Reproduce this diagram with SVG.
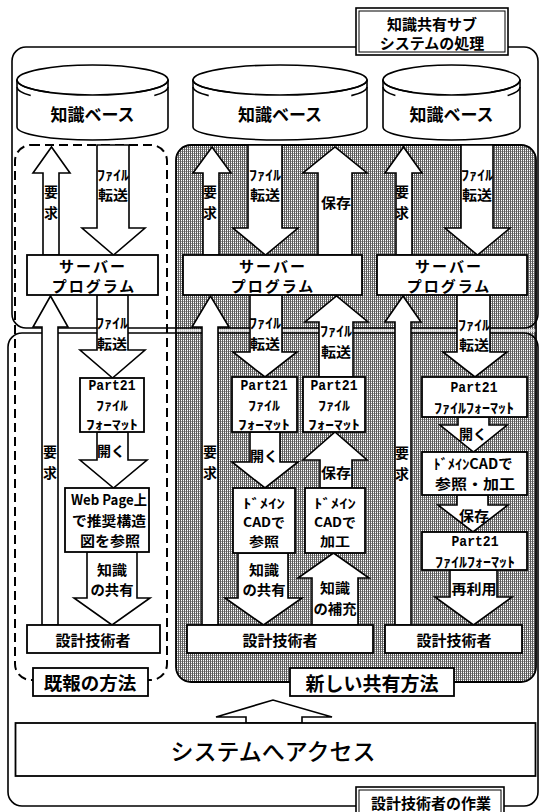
<svg xmlns="http://www.w3.org/2000/svg" width="539" height="812" viewBox="0 0 539 812">
<defs>
<pattern id="sh" width="2" height="2" patternUnits="userSpaceOnUse"><rect width="2" height="2" fill="#fff"/><rect width="1" height="2" fill="#5a5a5a"/><rect x="1" y="1" width="1" height="1" fill="#999"/></pattern>
<style>
.a{fill:#fff;stroke:#000;stroke-width:1.6;stroke-linejoin:miter}
.b{fill:#fff;stroke:#000;stroke-width:1.8}
.c{fill:#fff;stroke:#000;stroke-width:1.6}
.f{fill:none;stroke:#000;stroke-width:1.6}
.t{font-family:"Noto Sans CJK JP","Noto Sans CJK SC",sans-serif;font-weight:700;font-size:14px;text-anchor:middle;dominant-baseline:central;fill:#000}
.s{font-size:13px}
.m{font-family:"Liberation Mono","DejaVu Sans Mono",monospace;font-weight:700;font-size:14px;text-anchor:middle;dominant-baseline:central;fill:#000}
</style>
</defs>
<rect width="539" height="812" fill="#fff"/>

<!-- regions -->
<g id="region-new">
<rect x="176" y="145" width="360" height="537" rx="15" fill="url(#sh)" stroke="#000" stroke-width="1.8"/>
</g>
<g id="region-old">
<rect x="15" y="145" width="152" height="535" rx="16" fill="none" stroke="#000" stroke-width="2" stroke-dasharray="9 5"/>
</g>
<g id="frames">
<rect x="12" y="47" width="526" height="281" rx="14" class="f"/>
<rect x="8" y="333" width="530" height="473" rx="14" class="f"/>
<rect x="176.8" y="329" width="358.4" height="3" fill="#fff" opacity="0.6"/>
</g>

<!-- knowledge bases -->
<g id="kb1">
<path class="c" d="M17,80 V127 A75.5,13 0 0 0 168,127 V80 Z"/>
<ellipse class="c" cx="92.5" cy="80" rx="75.5" ry="15"/>
<path class="f" d="M17,80 A75.5,15 0 0 0 49.2,92.3 M135.8,92.3 A75.5,15 0 0 0 168,80 M17,87 A75.5,15 0 0 0 30.7,95.6 M154.3,95.6 A75.5,15 0 0 0 168,87"/>
<text class="t" x="92.5" y="113" style="font-size:17px">知識ベース</text>
</g>
<g id="kb2">
<path class="c" d="M193,80 V127 A87,13 0 0 0 367,127 V80 Z"/>
<ellipse class="c" cx="280" cy="80" rx="87" ry="15"/>
<path class="f" d="M193,80 A87,15 0 0 0 230.1,92.3 M329.9,92.3 A87,15 0 0 0 367,80 M193,87 A87,15 0 0 0 208.7,95.6 M351.3,95.6 A87,15 0 0 0 367,87"/>
<text class="t" x="280" y="113" style="font-size:17px">知識ベース</text>
</g>
<g id="kb3">
<path class="c" d="M383,80 V127 A68.5,13 0 0 0 520,127 V80 Z"/>
<ellipse class="c" cx="451.5" cy="80" rx="68.5" ry="15"/>
<path class="f" d="M383,80 A68.5,15 0 0 0 412.2,92.3 M490.8,92.3 A68.5,15 0 0 0 520,80 M383,87 A68.5,15 0 0 0 395.4,95.6 M507.6,95.6 A68.5,15 0 0 0 520,87"/>
<text class="t" x="451.5" y="113" style="font-size:17px">知識ベース</text>
</g>

<!-- connectors -->
<g id="connectors">
<polygon class="a" points="43,255 43,173 33,173 51.5,147 70,173 59,173 59,255"/>
<polygon class="a" points="97,145 129,145 129,228 145,228 113.5,255 82,228 97,228"/>
<polygon class="a" points="42,625 42,327 33,327 50.5,296 68,327 58,327 58,625"/>
<polygon class="a" points="97,295 128,295 128,350 145,350 112.5,378 80,350 97,350"/>
<polygon class="a" points="97,432 128,432 128,460 147,460 113.5,488 80,460 97,460"/>
<polygon class="a" points="87,552 137,552 137,598 150,598 112,625 74,598 87,598"/>

<polygon class="a" points="203,255 203,173 193,173 212,147 231,173 219,173 219,255"/>
<polygon class="a" points="248,145 282,145 282,228 298,228 265.5,255 233,228 248,228"/>
<polygon class="a" points="318,255 318,173 303,173 335,147 367,173 352,173 352,255"/>
<polygon class="a" points="202,625 202,327 192,327 210.5,296 229,327 218,327 218,625"/>
<polygon class="a" points="250,295 282,295 282,352 297,352 265,377 233,352 250,352"/>
<polygon class="a" points="319,377 319,322 305,322 336.5,296 368,322 353,322 353,377"/>
<polygon class="a" points="250,432 280,432 280,462 298,462 265,488 232,462 250,462"/>
<polygon class="a" points="320,488 320,460 303,460 335,432 367,460 352,460 352,488"/>
<polygon class="a" points="238,553 288,553 288,598 302,598 263.5,625 225,598 238,598"/>
<polygon class="a" points="312,625 312,578 298,578 333.5,553 369,578 358,578 358,625"/>

<polygon class="a" points="396,255 396,173 385,173 403.5,147 422,173 412,173 412,255"/>
<polygon class="a" points="461,145 493,145 493,228 510,228 477.5,255 445,228 461,228"/>
<polygon class="a" points="395,625 395,322 385,322 403,296 421,322 411,322 411,625"/>
<polygon class="a" points="457,295 490,295 490,352 507,352 475,377 443,352 457,352"/>
<polygon class="a" points="458,417 489,417 489,425 507,425 473.5,452 440,425 458,425"/>
<polygon class="a" points="457,495 488,495 488,505 508,505 473,532 438,505 457,505"/>
<polygon class="a" points="450,570 497,570 497,597 512,597 473.5,625 435,597 450,597"/>

<polygon class="a" points="246,723 246,717 216,717 273,700 332,717 302,717 302,723"/>

<!-- connector labels -->
<text class="t" x="51" y="191">要</text><text class="t" x="51" y="212">求</text>
<text class="t" x="113" y="174" textLength="32" lengthAdjust="spacingAndGlyphs">ﾌｧｲﾙ</text><text class="t" x="113" y="194" textLength="30" lengthAdjust="spacingAndGlyphs">転送</text>
<text class="t" x="50" y="451">要</text><text class="t" x="50" y="472">求</text>
<text class="t" x="112" y="322" textLength="32" lengthAdjust="spacingAndGlyphs">ﾌｧｲﾙ</text><text class="t" x="112" y="343" textLength="30" lengthAdjust="spacingAndGlyphs">転送</text>
<text class="t" x="111" y="450">開く</text>
<text class="t" x="112" y="569" textLength="30" lengthAdjust="spacingAndGlyphs">知識</text><text class="t" x="112" y="589" textLength="43" lengthAdjust="spacingAndGlyphs">の共有</text>

<text class="t" x="210" y="191">要</text><text class="t" x="210" y="212">求</text>
<text class="t" x="265" y="174" textLength="32" lengthAdjust="spacingAndGlyphs">ﾌｧｲﾙ</text><text class="t" x="265" y="194" textLength="30" lengthAdjust="spacingAndGlyphs">転送</text>
<text class="t" x="336" y="202" textLength="30" lengthAdjust="spacingAndGlyphs">保存</text>
<text class="t" x="210" y="451">要</text><text class="t" x="210" y="472">求</text>
<text class="t" x="265" y="322" textLength="32" lengthAdjust="spacingAndGlyphs">ﾌｧｲﾙ</text><text class="t" x="265" y="343" textLength="30" lengthAdjust="spacingAndGlyphs">転送</text>
<text class="t" x="336" y="330" textLength="32" lengthAdjust="spacingAndGlyphs">ﾌｧｲﾙ</text><text class="t" x="336" y="351" textLength="30" lengthAdjust="spacingAndGlyphs">転送</text>
<text class="t" x="264" y="455">開く</text>
<text class="t" x="336" y="472" textLength="30" lengthAdjust="spacingAndGlyphs">保存</text>
<text class="t" x="264" y="569" textLength="30" lengthAdjust="spacingAndGlyphs">知識</text><text class="t" x="264" y="589" textLength="43" lengthAdjust="spacingAndGlyphs">の共有</text>
<text class="t" x="335" y="587" textLength="30" lengthAdjust="spacingAndGlyphs">知識</text><text class="t" x="335" y="608" textLength="43" lengthAdjust="spacingAndGlyphs">の補充</text>

<text class="t" x="402" y="191">要</text><text class="t" x="402" y="212">求</text>
<text class="t" x="477" y="174" textLength="32" lengthAdjust="spacingAndGlyphs">ﾌｧｲﾙ</text><text class="t" x="477" y="194" textLength="30" lengthAdjust="spacingAndGlyphs">転送</text>
<text class="t" x="402" y="452">要</text><text class="t" x="402" y="473">求</text>
<text class="t" x="474" y="324" textLength="32" lengthAdjust="spacingAndGlyphs">ﾌｧｲﾙ</text><text class="t" x="474" y="344" textLength="30" lengthAdjust="spacingAndGlyphs">転送</text>
<text class="t" x="473" y="433">開く</text>
<text class="t" x="474" y="515" textLength="30" lengthAdjust="spacingAndGlyphs">保存</text>
<text class="t" x="474" y="588" textLength="45" lengthAdjust="spacingAndGlyphs">再利用</text>
</g>

<!-- nodes -->
<g id="server1"><rect class="b" x="27" y="255" width="131" height="40"/>
<text class="t" x="93" y="265" style="font-size:15px" letter-spacing="2">サーバー</text><text class="t" x="94" y="285" style="font-size:15px" letter-spacing="2">プログラム</text></g>
<g id="server2"><rect class="b" x="183" y="255" width="179" height="40"/>
<text class="t" x="273" y="265" style="font-size:15px" letter-spacing="2">サーバー</text><text class="t" x="273" y="285" style="font-size:15px" letter-spacing="2">プログラム</text></g>
<g id="server3"><rect class="b" x="377" y="255" width="150" height="40"/>
<text class="t" x="449" y="265" style="font-size:15px" letter-spacing="2">サーバー</text><text class="t" x="449" y="285" style="font-size:15px" letter-spacing="2">プログラム</text></g>

<g id="part21-1"><rect class="b" x="80" y="378" width="64" height="54"/>
<text class="m" x="112" y="386" textLength="47" lengthAdjust="spacingAndGlyphs">Part21</text>
<text class="t s" x="112" y="404" textLength="32" lengthAdjust="spacingAndGlyphs">ﾌｧｲﾙ</text>
<text class="t s" x="112" y="423" textLength="52" lengthAdjust="spacingAndGlyphs">ﾌｫｰﾏｯﾄ</text></g>
<g id="webpage"><rect class="b" x="65" y="488" width="84" height="64"/>
<text class="t" x="109" y="499" textLength="76" lengthAdjust="spacingAndGlyphs">Web Page上</text>
<text class="t" x="109" y="520" textLength="74" lengthAdjust="spacingAndGlyphs">で推奨構造</text>
<text class="t" x="110" y="540" textLength="60" lengthAdjust="spacingAndGlyphs">図を参照</text></g>
<g id="designer1"><rect class="b" x="27" y="625" width="133" height="28"/>
<text class="t" x="93" y="639" style="font-size:15px">設計技術者</text></g>

<g id="part21-2a"><rect class="b" x="232" y="377" width="65" height="55"/>
<text class="m" x="264" y="386" textLength="47" lengthAdjust="spacingAndGlyphs">Part21</text>
<text class="t s" x="264" y="404" textLength="32" lengthAdjust="spacingAndGlyphs">ﾌｧｲﾙ</text>
<text class="t s" x="264" y="423" textLength="52" lengthAdjust="spacingAndGlyphs">ﾌｫｰﾏｯﾄ</text></g>
<g id="part21-2b"><rect class="b" x="303" y="377" width="62" height="55"/>
<text class="m" x="334" y="386" textLength="47" lengthAdjust="spacingAndGlyphs">Part21</text>
<text class="t s" x="334" y="404" textLength="32" lengthAdjust="spacingAndGlyphs">ﾌｧｲﾙ</text>
<text class="t s" x="334" y="423" textLength="52" lengthAdjust="spacingAndGlyphs">ﾌｫｰﾏｯﾄ</text></g>
<g id="cad-ref"><rect class="b" x="233" y="488" width="62" height="65"/>
<text class="t s" x="264" y="502" textLength="42" lengthAdjust="spacingAndGlyphs">ﾄﾞﾒｲﾝ</text>
<text class="t s" x="264" y="521" textLength="42" lengthAdjust="spacingAndGlyphs">CADで</text>
<text class="t s" x="264" y="540" textLength="30" lengthAdjust="spacingAndGlyphs">参照</text></g>
<g id="cad-edit"><rect class="b" x="305" y="488" width="60" height="65"/>
<text class="t s" x="335" y="502" textLength="42" lengthAdjust="spacingAndGlyphs">ﾄﾞﾒｲﾝ</text>
<text class="t s" x="335" y="521" textLength="42" lengthAdjust="spacingAndGlyphs">CADで</text>
<text class="t s" x="335" y="540" textLength="30" lengthAdjust="spacingAndGlyphs">加工</text></g>
<g id="designer2"><rect class="b" x="187" y="625" width="186" height="28"/>
<text class="t" x="280" y="639" style="font-size:15px">設計技術者</text></g>

<g id="part21-3"><rect class="b" x="422" y="377" width="105" height="40"/>
<text class="m" x="474" y="388" textLength="47" lengthAdjust="spacingAndGlyphs">Part21</text>
<text class="t" x="474" y="407" textLength="80" lengthAdjust="spacingAndGlyphs">ﾌｧｲﾙﾌｫｰﾏｯﾄ</text></g>
<g id="cad-3"><rect class="b" x="422" y="452" width="105" height="43"/>
<text class="t" x="473" y="463" textLength="79" lengthAdjust="spacingAndGlyphs">ﾄﾞﾒｲﾝCADで</text>
<text class="t" x="475" y="483" textLength="80" lengthAdjust="spacingAndGlyphs">参照・加工</text></g>
<g id="part21-3b"><rect class="b" x="422" y="532" width="105" height="38"/>
<text class="m" x="475" y="542" textLength="47" lengthAdjust="spacingAndGlyphs">Part21</text>
<text class="t" x="475" y="561" textLength="80" lengthAdjust="spacingAndGlyphs">ﾌｧｲﾙﾌｫｰﾏｯﾄ</text></g>
<g id="designer3"><rect class="b" x="385" y="625" width="137" height="28"/>
<text class="t" x="454" y="639" style="font-size:15px">設計技術者</text></g>

<g id="label-old"><rect class="b" x="33" y="668" width="115" height="28"/>
<text class="t" x="90" y="682" style="font-size:18.5px">既報の方法</text></g>
<g id="label-new"><rect class="b" x="290" y="668" width="164" height="28"/>
<text class="t" x="372" y="682" style="font-size:19px">新しい共有方法</text></g>

<g id="access"><rect class="b" x="15.5" y="723" width="520" height="53"/>
<text class="t" x="273" y="750" style="font-size:23px;font-weight:500">システムへアクセス</text></g>

<g id="label-sub">
<rect class="c" x="356" y="8" width="152" height="47"/>
<rect fill="none" stroke="#000" stroke-width="1" x="359" y="11" width="146" height="41"/>
<text class="t" x="432" y="23" style="font-size:15px">知識共有サブ</text>
<text class="t" x="432" y="42" style="font-size:15px">システムの処理</text>
</g>
<g id="label-work">
<rect class="c" x="356" y="787" width="148" height="30"/>
<rect fill="none" stroke="#000" stroke-width="1" x="359" y="790" width="142" height="30"/>
<text class="t" x="431" y="802" style="font-size:15px">設計技術者の作業</text>
</g>
</svg>
